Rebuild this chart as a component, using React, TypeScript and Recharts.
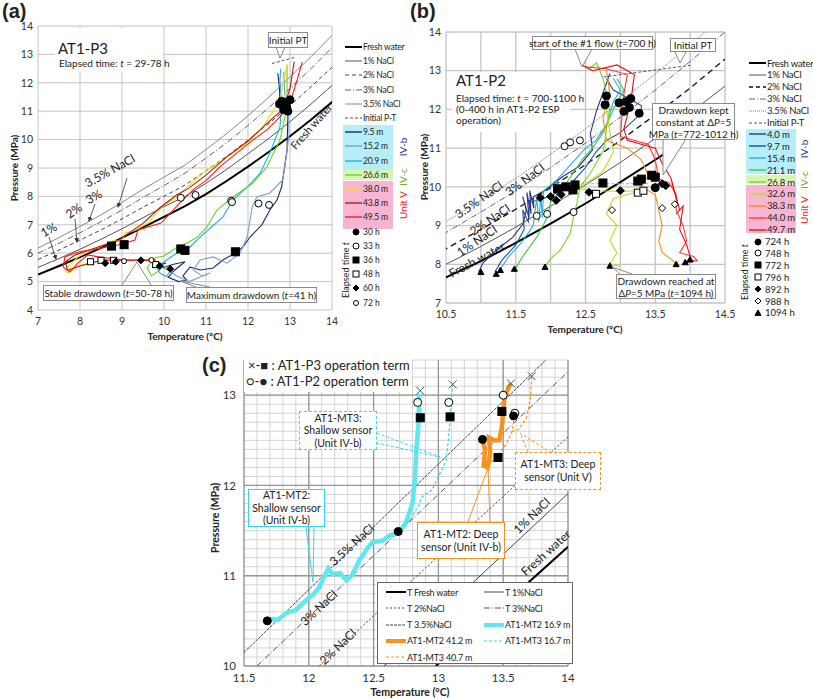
import React from "react";
import { ComposedChart, Line, Scatter, XAxis, YAxis, CartesianGrid, ReferenceLine } from "recharts";

type Pt = [number, number];
const pts = (a: Pt[]) => a.map(([t, p]) => ({ t, p }));

const FONT = "Lato, 'Open Sans', sans-serif";

// hydrate equilibrium curves (a)/(b)
const EQ_T = [7, 7.5, 8, 8.5, 9, 9.5, 10, 10.5, 11, 11.5, 12, 12.5, 13, 13.5, 14, 14.5];
const EQ_FRESH = [5.25, 5.55, 5.86, 6.19, 6.54, 6.91, 7.28, 7.66, 8.08, 8.55, 9.05, 9.57, 10.12, 10.7, 11.32, 11.96];
const EQ_1 = [5.5, 5.81, 6.14, 6.49, 6.86, 7.25, 7.64, 8.0, 8.46, 8.96, 9.5, 10.05, 10.63, 11.25, 11.91, 12.6];
const EQ_2 = [5.78, 6.11, 6.46, 6.82, 7.21, 7.62, 8.0, 8.4, 8.9, 9.42, 9.98, 10.57, 11.2, 11.86, 12.55, 13.3];
const EQ_3 = [6.0, 6.35, 6.72, 7.11, 7.52, 7.96, 8.38, 8.82, 9.35, 9.9, 10.5, 11.13, 11.8, 12.5, 13.24, 14.0];
const EQ_35 = [6.18, 6.55, 6.94, 7.35, 7.79, 8.25, 8.68, 9.1, 9.65, 10.22, 10.84, 11.5, 12.2, 12.92, 13.67, 14.45];
const eq = (v: number[]) => EQ_T.map((t, i) => ({ t, p: v[i] }));

// ---------- panel (a) AT1-P3 ----------
const A_XTICKS = [7, 8, 9, 10, 11, 12, 13, 14];
const A_YTICKS = [4, 5, 6, 7, 8, 9, 10, 11, 12, 13, 14];
const A_INIT: Pt[] = [[12.57, 12.68], [13.1, 12.89]];
const A_95: Pt[] = [[12.71, 12.34], [12.75, 11.8], [12.76, 11.29], [12.95, 10.94], [12.93, 9.63], [12.8, 8.33], [12.69, 7.87], [12.52, 7.52], [12.33, 7.0], [12.05, 6.57], [11.88, 6.22], [11.69, 6.0], [11.4, 5.76], [11.17, 5.48], [10.86, 5.41], [10.62, 5.51], [10.45, 5.2], [10.55, 5.05], [10.35, 5.0], [10.1, 5.15], [10.25, 5.4], [10.5, 5.7], [10.2, 5.6], [10.0, 5.5], [9.9, 5.6], [10.05, 5.65]];
const A_152: Pt[] = [[12.85, 12.4], [12.88, 11.5], [12.95, 11.0], [12.98, 10.2], [12.92, 9.5], [12.83, 8.58], [12.52, 8.12], [12.21, 7.98], [12.1, 7.63], [12.05, 7.17], [11.98, 6.57], [11.81, 6.0], [11.5, 5.65], [11.17, 5.87], [10.86, 5.76], [10.7, 5.41], [10.9, 5.2], [11.1, 5.3], [10.6, 5.0], [10.3, 5.2], [10.1, 5.4], [9.95, 5.5]];
const A_209: Pt[] = [[12.78, 12.5], [12.76, 12.1], [12.8, 11.15], [12.76, 10.44], [12.52, 9.53], [12.29, 8.82], [11.98, 8.33], [11.64, 7.87], [11.4, 7.27], [10.86, 6.57], [10.62, 6.22], [10.45, 6.11], [10.2, 5.9], [10.0, 5.7], [9.85, 5.5], [9.75, 5.7], [9.9, 5.3], [10.06, 5.17], [10.2, 5.5]];
const A_266: Pt[] = [[12.93, 12.64], [12.93, 11.8], [12.93, 11.15], [12.76, 9.99], [12.45, 9.04], [12.12, 8.47], [11.64, 7.98], [11.26, 7.52], [11.02, 6.92], [10.79, 6.57], [10.55, 6.36], [10.3, 6.2], [10.0, 5.9], [9.8, 5.85], [9.6, 5.5], [9.7, 5.2], [9.9, 5.4], [9.75, 5.7], [9.5, 5.75]];
const A_380: Pt[] = [[12.93, 12.63], [12.76, 11.4], [12.36, 10.44], [11.98, 9.88], [11.4, 9.28], [10.93, 8.82], [10.55, 8.33], [10.33, 7.98], [10.0, 7.7], [9.62, 7.06], [9.3, 6.8], [9.07, 6.71], [9.0, 6.4], [8.83, 6.46], [8.4, 6.2], [7.95, 5.87], [7.64, 5.41], [7.71, 5.3], [8.02, 5.58], [8.6, 5.76], [9.38, 5.76], [9.8, 5.8]];
const A_438: Pt[] = [[13.1, 12.75], [13.0, 11.8], [12.85, 11.1], [12.4, 10.5], [12.0, 9.95], [11.5, 9.4], [11.0, 8.75], [10.6, 8.3], [10.3, 8.05], [9.9, 7.6], [9.5, 7.05], [9.2, 6.75], [8.9, 6.45], [8.4, 6.2], [7.9, 5.95], [7.65, 5.7], [7.7, 5.4], [8.0, 5.55], [8.5, 5.75], [9.3, 5.75], [9.8, 5.75]];
const A_495: Pt[] = [[13.29, 12.73], [13.17, 12.1], [13.0, 11.29], [12.76, 10.8], [12.45, 10.34], [12.12, 9.99], [11.74, 9.53], [11.33, 9.04], [11.02, 8.58], [10.69, 8.23], [10.38, 7.77], [9.93, 7.06], [9.38, 6.82], [9.31, 6.46], [8.9, 6.29], [8.5, 6.18], [7.95, 6.04], [7.64, 5.87], [7.6, 5.51], [7.76, 5.34], [7.95, 5.65], [8.19, 5.94], [8.43, 5.87], [9.07, 5.76], [9.79, 5.76]];
const A_M30: Pt[] = [[12.75, 11.25], [12.85, 11.05], [12.9, 11.3], [12.95, 11.0], [13.0, 11.4], [12.92, 11.15], [12.8, 11.35]];
const A_M33: Pt[] = [[10.4, 7.95], [10.75, 8.05], [11.6, 7.85], [11.62, 7.8], [12.25, 7.75], [12.5, 7.7]];
const A_M36: Pt[] = [[8.75, 6.25], [9.05, 6.3], [10.4, 6.15], [10.5, 6.1], [11.7, 6.05]];
const A_M48: Pt[] = [[8.25, 5.7], [8.5, 5.75], [8.8, 5.75], [9.8, 5.6]];
const A_M60: Pt[] = [[8.6, 5.65], [8.85, 5.7], [9.45, 5.75], [9.9, 5.55], [10.15, 5.45]];
const A_M72: Pt[] = [[9.05, 5.72], [9.7, 5.76]];

// ---------- panel (b) AT1-P2 ----------
const B_XGRID = [10.5, 11, 11.5, 12, 12.5, 13, 13.5, 14, 14.5];
const B_XTICKS = [10.5, 11.5, 12.5, 13.5, 14.5];
const B_YTICKS = [7, 8, 9, 10, 11, 12, 13, 14];
const B_FRESH_END: Pt = [13.62, 10.84];
const B_INIT: Pt[] = [[12.76, 12.84], [14.0, 13.14]];
const B_HOLD: Pt[] = [[12.08, 10.08], [13.4, 10.08]];
const B_40: Pt[] = [[10.97, 7.8], [11.03, 8.03], [11.22, 8.37], [11.46, 8.7], [11.61, 9.06], [11.65, 9.4], [11.6, 9.75], [11.69, 9.2], [11.66, 9.85], [11.72, 9.3], [11.7, 9.9], [11.76, 9.45], [11.75, 9.74], [11.93, 9.92], [12.17, 10.26], [12.4, 10.52], [12.6, 10.95], [12.57, 11.38], [12.66, 11.98], [12.8, 12.67], [12.85, 12.93]];
const B_97: Pt[] = [[11.2, 7.8], [11.3, 8.1], [11.5, 8.5], [11.62, 8.9], [11.6, 9.4], [11.68, 9.1], [11.7, 9.6], [11.9, 9.7], [12.1, 9.85], [12.3, 10.1], [12.5, 10.5], [12.65, 10.9], [12.8, 11.2], [13.0, 11.4], [13.3, 11.9], [13.3, 12.1], [13.1, 12.3], [12.9, 12.5], [12.8, 12.8]];
const B_154: Pt[] = [[11.25, 7.8], [11.4, 8.2], [11.6, 8.6], [11.75, 9.0], [11.8, 9.7], [11.83, 9.1], [11.86, 9.8], [11.88, 9.2], [11.9, 9.9], [12.1, 10.2], [12.3, 10.6], [12.5, 11.0], [12.65, 11.2], [12.8, 11.6], [12.9, 12.2], [13.0, 12.5], [12.9, 12.8]];
const B_211: Pt[] = [[11.5, 7.9], [11.6, 8.2], [11.8, 8.7], [11.95, 9.2], [12.0, 9.6], [12.15, 9.9], [12.3, 10.3], [12.45, 10.7], [12.6, 11.0], [12.75, 11.4], [12.9, 12.0], [13.05, 12.5], [12.95, 12.8]];
const B_268: Pt[] = [[12.55, 13.05], [12.66, 13.2], [12.75, 12.8], [12.85, 12.07], [12.8, 11.5], [12.76, 10.95], [12.57, 10.35], [12.42, 10.0], [12.38, 9.6], [12.33, 9.23], [12.28, 8.8], [12.14, 8.37], [11.99, 8.12], [11.92, 7.94]];
const B_326: Pt[] = [[12.85, 12.6], [12.8, 12.0], [12.85, 11.4], [12.9, 10.9], [12.75, 10.4], [12.4, 9.95], [12.7, 9.9], [13.0, 9.88], [13.3, 9.9], [12.9, 9.7], [12.8, 9.3], [12.95, 9.0], [12.85, 8.6], [12.95, 8.3], [12.85, 8.0], [13.0, 7.95]];
const B_383: Pt[] = [[12.8, 13.05], [12.85, 12.4], [12.75, 11.8], [12.8, 11.2], [13.1, 11.0], [13.3, 10.7], [13.4, 10.3], [13.3, 10.0], [13.5, 9.8], [13.55, 9.4], [13.6, 9.0], [13.55, 8.6], [13.6, 8.3], [13.75, 8.1], [13.8, 8.0]];
const B_440: Pt[] = [[12.5, 13.1], [12.8, 13.05], [13.1, 12.9], [13.05, 12.4], [13.0, 11.3], [13.4, 11.1], [13.5, 10.7], [13.55, 10.2], [13.7, 10.1], [13.8, 9.8], [13.8, 9.4], [13.9, 9.0], [13.95, 8.6], [13.85, 8.3], [14.05, 8.2], [14.1, 8.1], [13.95, 8.05]];
const B_497: Pt[] = [[12.45, 13.15], [12.6, 13.0], [12.95, 13.15], [13.2, 12.9], [13.15, 12.2], [13.05, 11.5], [13.1, 11.2], [13.5, 11.0], [13.6, 10.6], [13.7, 10.3], [13.72, 10.25], [13.8, 9.7], [13.73, 10.2], [13.82, 9.6], [13.74, 10.1], [13.83, 9.5], [13.76, 10.0], [13.85, 9.4], [13.8, 9.3], [13.9, 9.5], [13.85, 8.9], [13.95, 8.5], [14.0, 8.2], [13.95, 8.05]];
const B_M724: Pt[] = [[12.8, 12.35], [12.78, 12.12], [12.98, 12.17], [13.05, 11.95], [13.08, 12.2], [13.13, 12.05], [13.15, 12.28], [13.27, 11.9], [13.5, 9.98]];
const B_M748: Pt[] = [[12.2, 11.05], [12.28, 11.15], [12.42, 11.2], [11.8, 9.25], [11.95, 9.3], [12.33, 9.35]];
const B_M772: Pt[] = [[12.1, 9.95], [12.22, 10.0], [12.35, 10.05], [12.32, 9.92], [12.75, 10.1], [13.25, 10.15], [13.3, 10.2], [13.45, 10.3], [13.5, 10.25]];
const B_M796: Pt[] = [[12.65, 9.82], [13.25, 9.85], [13.33, 9.9]];
const B_M892: Pt[] = [[11.85, 9.72], [12.0, 9.75], [12.08, 9.65], [12.15, 9.8], [12.55, 9.86], [13.0, 9.9], [13.6, 10.08], [13.65, 10.03]];
const B_M988: Pt[] = [[12.88, 9.4], [13.6, 9.45], [13.78, 9.55]];
const B_M1094: Pt[] = [[11.0, 7.8], [11.22, 7.75], [11.28, 7.85], [11.48, 7.88], [11.92, 7.93], [12.85, 7.96], [13.8, 8.0], [13.93, 8.05], [14.0, 8.12]];

// ---------- panel (c) ----------
const C_XTICKS = [11.5, 12, 12.5, 13, 13.5, 14];
const C_YTICKS = [10, 11, 12, 13];
const C_XMINOR = [11.5, 11.6, 11.7, 11.8, 11.9, 12, 12.1, 12.2, 12.3, 12.4, 12.5, 12.6, 12.7, 12.8, 12.9, 13, 13.1, 13.2, 13.3, 13.4, 13.5, 13.6, 13.7, 13.8, 13.9, 14];
const C_YMINOR = [10, 10.1, 10.2, 10.3, 10.4, 10.5, 10.6, 10.7, 10.8, 10.9, 11, 11.1, 11.2, 11.3, 11.4, 11.5, 11.6, 11.7, 11.8, 11.9, 12, 12.1, 12.2, 12.3, 12.4, 12.5, 12.6, 12.7, 12.8, 12.9, 13, 13.1, 13.2, 13.3];
const C_FRESH: Pt[] = [[12.98, 10.0], [14.0, 11.32]];
const C_1: Pt[] = [[12.58, 10.0], [14.0, 11.91]];
const C_2: Pt[] = [[12.08, 10.0], [14.0, 12.54]];
const C_3: Pt[] = [[11.6, 10.0], [14.0, 13.26]];
const C_35: Pt[] = [[11.5, 10.15], [13.85, 13.42]];
const C_MT2_169: Pt[] = [[11.68, 10.5], [11.72, 10.52], [11.76, 10.51], [11.83, 10.59], [11.9, 10.62], [11.98, 10.73], [12.04, 10.8], [12.08, 10.87], [12.15, 11.08], [12.18, 11.02], [12.24, 11.03], [12.29, 10.95], [12.33, 11.0], [12.39, 11.17], [12.45, 11.3], [12.49, 11.37], [12.57, 11.39], [12.63, 11.45], [12.68, 11.47], [12.74, 11.56], [12.8, 11.8], [12.82, 12.09], [12.83, 12.4], [12.85, 12.75], [12.85, 13.02]];
const C_MT3_167: Pt[] = [[12.69, 11.52], [12.78, 11.62], [12.85, 11.78], [12.87, 11.87], [12.95, 11.95], [13.0, 12.1], [13.06, 12.28], [13.08, 12.55], [13.09, 12.72], [13.1, 12.95], [13.11, 13.12]];
const C_MT2_412: Pt[] = [[13.34, 12.51], [13.36, 12.4], [13.35, 12.22], [13.38, 12.2], [13.4, 12.36], [13.39, 12.53], [13.43, 12.5], [13.47, 12.5], [13.49, 12.65], [13.5, 12.82], [13.51, 12.98], [13.54, 13.08], [13.56, 13.13]];
const C_MT3_407: Pt[] = [[13.38, 12.22], [13.45, 12.32], [13.52, 12.45], [13.57, 12.6], [13.59, 12.78], [13.57, 12.6], [13.62, 12.62], [13.68, 12.75], [13.71, 12.95], [13.72, 13.21]];
const C_X: Pt[] = [[12.86, 13.05], [13.11, 13.12], [13.56, 13.13], [13.72, 13.21]];
const C_SQ: Pt[] = [[12.86, 12.75], [13.09, 12.76], [13.49, 12.82], [13.46, 12.31]];
const C_OC: Pt[] = [[12.84, 12.92], [13.08, 12.92], [13.5, 13.0], [13.59, 12.8]];
const C_FC: Pt[] = [[11.68, 10.5], [12.69, 11.49], [13.34, 12.51], [13.58, 12.77]];

// ---------- styles ----------
const EQ_STYLES = {
  fresh: { stroke: "#000", width: 2, dash: undefined as string | undefined },
  s1: { stroke: "#555", width: 1, dash: undefined as string | undefined },
  s2: { stroke: "#444", width: 1, dash: "4 3" },
  s3: { stroke: "#666", width: 1, dash: "6 2 1 2" },
  s35: { stroke: "#888", width: 1, dash: undefined as string | undefined },
  init: { stroke: "#555", width: 1, dash: "3 2" },
};

const A_SERIES = [
  { label: "9.5 m", data: A_95, stroke: "#1b2a6b" },
  { label: "15.2 m", data: A_152, stroke: "#7f9fc4" },
  { label: "20.9 m", data: A_209, stroke: "#1fb0f0" },
  { label: "26.6 m", data: A_266, stroke: "#6ad61e" },
  { label: "38.0 m", data: A_380, stroke: "#efe000" },
  { label: "43.8 m", data: A_438, stroke: "#b3191f" },
  { label: "49.5 m", data: A_495, stroke: "#ff1a1a" },
];
const B_SERIES = [
  { label: "4.0 m", data: B_40, stroke: "#2b3585" },
  { label: "9.7 m", data: B_97, stroke: "#1f4aa0" },
  { label: "15.4 m", data: B_154, stroke: "#22b0e8" },
  { label: "21.1 m", data: B_211, stroke: "#39c94a" },
  { label: "26.8 m", data: B_268, stroke: "#77d81c" },
  { label: "32.6 m", data: B_326, stroke: "#b8e01a" },
  { label: "38.3 m", data: B_383, stroke: "#ff8a1c" },
  { label: "44.0 m", data: B_440, stroke: "#ff3b30" },
  { label: "49.7 m", data: B_497, stroke: "#e3101a" },
];

type Kind = "circle" | "square" | "diamond" | "triangle" | "x";
function Mark({ cx, cy, kind, filled, size }: { cx: number; cy: number; kind: Kind; filled: boolean; size: number }) {
  const h = size / 2;
  const fill = filled ? "#000" : "#fff";
  const st = { fill, stroke: "#000", strokeWidth: 1 };
  if (kind === "circle") return <circle cx={cx} cy={cy} r={h} {...st} />;
  if (kind === "square") return <rect x={cx - h} y={cy - h} width={size} height={size} {...st} />;
  if (kind === "diamond") return <polygon points={`${cx},${cy - h} ${cx + h},${cy} ${cx},${cy + h} ${cx - h},${cy}`} {...st} />;
  if (kind === "triangle") return <polygon points={`${cx},${cy - h} ${cx + h},${cy + h * 0.8} ${cx - h},${cy + h * 0.8}`} {...st} />;
  return (
    <g stroke="#555" strokeWidth={1}>
      <line x1={cx - h} y1={cy - h} x2={cx + h} y2={cy + h} />
      <line x1={cx - h} y1={cy + h} x2={cx + h} y2={cy - h} />
    </g>
  );
}

const A_MARKS = [
  { label: "30 h", data: A_M30, kind: "circle" as Kind, filled: true, size: 8 },
  { label: "33 h", data: A_M33, kind: "circle" as Kind, filled: false, size: 7 },
  { label: "36 h", data: A_M36, kind: "square" as Kind, filled: true, size: 8 },
  { label: "48 h", data: A_M48, kind: "square" as Kind, filled: false, size: 6 },
  { label: "60 h", data: A_M60, kind: "diamond" as Kind, filled: true, size: 7 },
  { label: "72 h", data: A_M72, kind: "circle" as Kind, filled: false, size: 5 },
];
const B_MARKS = [
  { label: "724 h", data: B_M724, kind: "circle" as Kind, filled: true, size: 8 },
  { label: "748 h", data: B_M748, kind: "circle" as Kind, filled: false, size: 7 },
  { label: "772 h", data: B_M772, kind: "square" as Kind, filled: true, size: 8 },
  { label: "796 h", data: B_M796, kind: "square" as Kind, filled: false, size: 7 },
  { label: "892 h", data: B_M892, kind: "diamond" as Kind, filled: true, size: 8 },
  { label: "988 h", data: B_M988, kind: "diamond" as Kind, filled: false, size: 7 },
  { label: "1094 h", data: B_M1094, kind: "triangle" as Kind, filled: true, size: 6 },
];

const tickStyle = { fontSize: 10.5, fill: "#333" };

function eqRowsFor(set: "a" | "b") {
  const fresh = set === "a" ? eq(EQ_FRESH) : [...eq(EQ_FRESH).filter((d) => d.t <= 13.5), { t: B_FRESH_END[0], p: B_FRESH_END[1] }];
  return [
    { d: fresh, s: EQ_STYLES.fresh },
    { d: eq(EQ_1), s: EQ_STYLES.s1 },
    { d: eq(EQ_2), s: set === "b" ? { stroke: "#111", width: 1.3, dash: "6 4" } : EQ_STYLES.s2 },
    { d: eq(EQ_3), s: EQ_STYLES.s3 },
    { d: eq(EQ_35), s: set === "b" ? { stroke: "#777", width: 1, dash: "1 1" } : EQ_STYLES.s35 },
  ];
}

function renderLine(key: string, data: { t: number; p: number }[], stroke: string, width: number, dash?: string) {
  return (
    <Line
      key={key}
      data={data}
      dataKey="p"
      type="linear"
      stroke={stroke}
      strokeWidth={width}
      strokeDasharray={dash}
      dot={false}
      activeDot={false}
      isAnimationActive={false}
      legendType="none"
    />
  );
}

function renderMarks(key: string, data: Pt[], kind: Kind, filled: boolean, size: number) {
  return (
    <Scatter
      key={key}
      data={pts(data)}
      isAnimationActive={false}
      shape={(p: any) => <Mark cx={p.cx} cy={p.cy} kind={kind} filled={filled} size={size} />}
    />
  );
}

function ChartA() {
  return (
    <ComposedChart width={340} height={340} margin={{ top: 26, right: 8, left: 10, bottom: 0 }}>
      <CartesianGrid stroke="#c4c4c4" />
      <XAxis type="number" dataKey="t" domain={[7, 14]} ticks={A_XTICKS} allowDataOverflow tickLine={false} axisLine={false} height={30} tick={tickStyle} />
      <YAxis type="number" dataKey="p" domain={[4, 14]} ticks={A_YTICKS} allowDataOverflow tickLine={false} axisLine={false} width={28} tickSize={4} tickMargin={1} tick={tickStyle} />
      {eqRowsFor("a").map((r, i) => renderLine("eq" + i, r.d, r.s.stroke, r.s.width, r.s.dash))}
      {renderLine("init", pts(A_INIT), EQ_STYLES.init.stroke, 1, EQ_STYLES.init.dash)}
      {A_SERIES.map((s) => renderLine(s.label, pts(s.data), s.stroke, 1.1))}
      {A_MARKS.map((m) => renderMarks(m.label, m.data, m.kind, m.filled, m.size))}
    </ComposedChart>
  );
}

function ChartB() {
  return (
    <ComposedChart width={335} height={340} margin={{ top: 32, right: 20, left: 8, bottom: 7 }}>
      <CartesianGrid stroke="#c4c4c4" strokeWidth={1.3} />
      <XAxis type="number" dataKey="t" domain={[10.5, 14.5]} ticks={B_XGRID} interval={0} tickFormatter={(v: number) => (B_XTICKS.includes(v) ? String(v) : "")} allowDataOverflow tickLine={false} axisLine={false} height={30} tick={tickStyle} />
      <YAxis type="number" dataKey="p" domain={[7, 14]} ticks={B_YTICKS} allowDataOverflow tickLine={false} axisLine={false} width={28} tickSize={4} tickMargin={1} tick={tickStyle} />
      {eqRowsFor("b").map((r, i) => renderLine("eq" + i, r.d, r.s.stroke, r.s.width, r.s.dash))}
      {renderLine("init", pts(B_INIT), EQ_STYLES.init.stroke, 1, EQ_STYLES.init.dash)}
      {renderLine("hold", pts(B_HOLD), "#aaa", 1, "3 2")}
      {B_SERIES.map((s) => renderLine(s.label, pts(s.data), s.stroke, 1.1))}
      {B_MARKS.map((m) => renderMarks(m.label, m.data, m.kind, m.filled, m.size))}
    </ComposedChart>
  );
}

const C_LINES = [
  { label: "T Fresh water", data: C_FRESH, stroke: "#000", width: 2, dash: undefined as string | undefined },
  { label: "T 1%NaCl", data: C_1, stroke: "#333", width: 0.9, dash: undefined as string | undefined },
  { label: "T 2%NaCl", data: C_2, stroke: "#444", width: 1, dash: "2 2" },
  { label: "T 3%NaCl", data: C_3, stroke: "#444", width: 0.9, dash: "6 2 1 2" },
  { label: "T 3.5%NaCl", data: C_35, stroke: "#333", width: 0.9, dash: "3 1" },
  { label: "AT1-MT2 16.9 m", data: C_MT2_169, stroke: "#5fe8f2", width: 4.5, dash: undefined as string | undefined },
  { label: "AT1-MT2 41.2 m", data: C_MT2_412, stroke: "#f7921e", width: 4.5, dash: undefined as string | undefined },
  { label: "AT1-MT3 16.7 m", data: C_MT3_167, stroke: "#35d6f0", width: 1.2, dash: "3 2" },
  { label: "AT1-MT3 40.7 m", data: C_MT3_407, stroke: "#f7921e", width: 1.2, dash: "3 2" },
];

function ChartC() {
  const cTick = { fontSize: 11.5, fill: "#333" };
  return (
    <ComposedChart width={400} height={359} margin={{ top: 20, right: 12, left: 34, bottom: 0 }}>
      <CartesianGrid stroke="#d4d4d4" />
      <XAxis type="number" dataKey="t" domain={[11.5, 14]} ticks={C_XMINOR} interval={0} tickFormatter={(v: number) => (C_XTICKS.includes(v) ? String(v) : "")} allowDataOverflow tickLine={false} axisLine={false} height={33} tick={cTick} />
      <YAxis type="number" dataKey="p" domain={[10, 13.39]} ticks={C_YMINOR} interval={0} tickFormatter={(v: number) => (C_YTICKS.includes(v) ? String(v) : "")} allowDataOverflow tickLine={false} axisLine={false} width={30} tick={cTick} />
      {C_XTICKS.map((v) => (
        <ReferenceLine key={"vx" + v} x={v} stroke="#969696" strokeWidth={1.3} />
      ))}
      {C_YTICKS.map((v) => (
        <ReferenceLine key={"hy" + v} y={v} stroke="#969696" strokeWidth={1.3} />
      ))}
      {C_LINES.map((s) => renderLine(s.label, pts(s.data), s.stroke, s.width, s.dash))}
      {renderMarks("x", C_X, "x", false, 8)}
      {renderMarks("sq", C_SQ, "square", true, 8)}
      {renderMarks("oc", C_OC, "circle", false, 8)}
      {renderMarks("fc", C_FC, "circle", true, 8)}
    </ComposedChart>
  );
}

// ---------- overlay helpers ----------
function T({ cx, cy, size = 11, rot = 0, color = "#222", bold = false, children }: any) {
  return (
    <div style={{ position: "absolute", left: cx, top: cy, transform: `translate(-50%,-50%) rotate(${rot}deg)`, fontSize: size, color, fontWeight: bold ? 700 : 400, whiteSpace: "nowrap", lineHeight: 1 }}>
      {children}
    </div>
  );
}
function TL({ x, y, size = 11, color = "#222", bold = false, children, family, lh = 1.15 }: any) {
  return (
    <div style={{ position: "absolute", left: x, top: y, fontSize: size, color, fontWeight: bold ? 700 : 400, whiteSpace: "nowrap", lineHeight: lh, fontFamily: family }}>
      {children}
    </div>
  );
}
function Box({ x, y, w, h, border = "#8a8a8a", dashed = false, size = 10.5, children, bw = 1 }: any) {
  return (
    <div style={{ position: "absolute", left: x, top: y, width: w, height: h, boxSizing: "border-box", border: `${bw}px ${dashed ? "dashed" : "solid"} ${border}`, background: "#fff", display: "flex", flexDirection: "column", alignItems: "center", justifyContent: "center", fontSize: size, lineHeight: 1.2, color: "#222", textAlign: "center", whiteSpace: "nowrap" }}>
      {children}
    </div>
  );
}
function Swatch({ stroke, width, dash, w = 17 }: any) {
  return (
    <svg width={w} height={6} style={{ display: "block" }}>
      <line x1={0} y1={3} x2={w} y2={3} stroke={stroke} strokeWidth={width} strokeDasharray={dash} />
    </svg>
  );
}
function LegLine({ x, y, label, size, ...rest }: any) {
  return (
    <div style={{ position: "absolute", left: x, top: y - 6, height: 12, display: "flex", alignItems: "center", fontSize: size, color: "#222", whiteSpace: "nowrap", letterSpacing: -0.2 }}>
      <Swatch {...rest} />
      <span style={{ marginLeft: 1 }}>{label}</span>
    </div>
  );
}
function LegMark({ x, y, label, size, kind, filled, msize, tx }: any) {
  return (
    <div style={{ position: "absolute", left: x, top: y - 6, height: 12, display: "flex", alignItems: "center", fontSize: size, color: "#222", whiteSpace: "nowrap" }}>
      <svg width={tx} height={12} style={{ display: "block" }}>
        <Mark cx={tx / 2} cy={6} kind={kind} filled={filled} size={msize} />
      </svg>
      <span style={{ marginLeft: 2 }}>{label}</span>
    </div>
  );
}

const A_EQ_LEG = [
  { label: "Fresh water", ...EQ_STYLES.fresh },
  { label: "1% NaCl", ...EQ_STYLES.s1 },
  { label: "2% NaCl", ...EQ_STYLES.s2 },
  { label: "3% NaCl", ...EQ_STYLES.s3 },
  { label: "3.5% NaCl", ...EQ_STYLES.s35 },
  { label: "Initial P-T", ...EQ_STYLES.init },
];

function LegendA() {
  const y0 = 47;
  const dy = 14.2;
  return (
    <>
      <div style={{ position: "absolute", left: 343, top: 125, width: 50, height: 45, background: "#b5eef9" }} />
      <div style={{ position: "absolute", left: 343, top: 170, width: 50, height: 10, background: "#d6f6b4" }} />
      <div style={{ position: "absolute", left: 343, top: 181, width: 50, height: 48, background: "#f8b5d2" }} />
      {A_EQ_LEG.map((r, i) => (
        <LegLine key={r.label} x={345} y={y0 + i * dy} label={r.label} size={8.5} stroke={r.stroke} width={r.width} dash={r.dash} />
      ))}
      {A_SERIES.map((s, i) => (
        <LegLine key={s.label} x={345} y={y0 + (i + 6) * dy} label={s.label} size={8.5} stroke={s.stroke} width={1.4} />
      ))}
      {A_MARKS.map((m, i) => (
        <LegMark key={m.label} x={351} y={y0 + (i + 13) * dy} label={m.label} size={8.5} kind={m.kind} filled={m.filled} msize={Math.min(m.size, 6)} tx={10} />
      ))}
      <T cx={403} cy={147} size={10} rot={-90} color="#2e3192">IV-b</T>
      <T cx={403} cy={177} size={10} rot={-90} color="#70a82a">IV-c</T>
      <T cx={403} cy={205} size={10} rot={-90} color="#ee1c24">Unit V</T>
      <T cx={345} cy={270} size={9} rot={-90}>Elapsed time <i>t</i></T>
    </>
  );
}

function LegendB() {
  const y0 = 63;
  const dy = 11.9;
  return (
    <>
      <div style={{ position: "absolute", left: 746, top: 129, width: 50, height: 45, background: "#b5eef9" }} />
      <div style={{ position: "absolute", left: 746, top: 175, width: 50, height: 9, background: "#d6f6b4" }} />
      <div style={{ position: "absolute", left: 746, top: 185, width: 50, height: 48, background: "#f8b5d2" }} />
      {[
        { label: "Fresh water", ...EQ_STYLES.fresh },
        { label: "1% NaCl", ...EQ_STYLES.s1 },
        { label: "2% NaCl", stroke: "#111", width: 1.3, dash: "4 3" },
        { label: "3% NaCl", ...EQ_STYLES.s3 },
        { label: "3.5% NaCl", stroke: "#777", width: 1, dash: "1 1" },
        { label: "Initial P-T", ...EQ_STYLES.init },
      ].map((r, i) => (
        <LegLine key={r.label} x={749} y={y0 + i * dy} label={r.label} size={9.5} stroke={r.stroke} width={r.width} dash={r.dash} />
      ))}
      {B_SERIES.map((s, i) => (
        <LegLine key={s.label} x={749} y={y0 + (i + 6) * dy} label={s.label} size={9.5} stroke={s.stroke} width={1.4} />
      ))}
      {B_MARKS.map((m, i) => (
        <LegMark key={m.label} x={753} y={y0 + (i + 15) * dy} label={m.label} size={9.5} kind={m.kind} filled={m.filled} msize={Math.min(m.size, 6)} tx={10} />
      ))}
      <T cx={804} cy={149} size={10} rot={-90} color="#2e3192">IV-b</T>
      <T cx={804} cy={180} size={10} rot={-90} color="#70a82a">IV-c</T>
      <T cx={804} cy={210} size={10} rot={-90} color="#ee1c24">Unit V</T>
      <T cx={744} cy={272} size={9} rot={-90}>Elapsed time <i>t</i></T>
    </>
  );
}

function LegendC() {
  const rows = [
    [C_LINES[0], C_LINES[1]],
    [C_LINES[2], C_LINES[3]],
    [C_LINES[4], C_LINES[5]],
    [C_LINES[6], C_LINES[7]],
    [C_LINES[8]],
  ];
  return (
    <div style={{ position: "absolute", left: 377, top: 582, width: 196, height: 82, boxSizing: "border-box", border: "1px solid #666", background: "#fff" }}>
      {rows.map((r, i) =>
        r.map((s, j) => (
          <LegLine key={s.label} x={j === 0 ? 8 : 106} y={9 + i * 16.3} label={s.label} size={9} stroke={s.stroke} width={Math.min(s.width, 4)} dash={s.dash} w={20} />
        ))
      )}
    </div>
  );
}

function Pointers() {
  const g = "#8a8a8a";
  return (
    <svg width={813} height={699} style={{ position: "absolute", left: 0, top: 0, pointerEvents: "none" }}>
      <defs>
        <marker id="ah" markerWidth="6" markerHeight="6" refX="5" refY="3" orient="auto">
          <path d="M0,0 L6,3 L0,6 z" fill="#333" />
        </marker>
      </defs>
      {/* (a) */}
      <polyline points="276,47 280,58 285,47" fill="#fff" stroke={g} />
      <polyline points="122,285 137,262 151,285" fill="none" stroke={g} />
      <polyline points="196,287 180,281 210,287" fill="none" stroke={g} />
      <g stroke="#333" strokeWidth={0.8} markerEnd="url(#ah)">
        <line x1={127} y1={178} x2={118} y2={207} />
        <line x1={95} y1={204} x2={89} y2={221} />
        <line x1={75} y1={219} x2={77} y2={242} />
        <line x1={49} y1={237} x2={56} y2={259} />
      </g>
      {/* (b) */}
      <polyline points="575,49 582,67 592,49" fill="#fff" stroke={g} />
      <polyline points="675,52 680,63 686,52" fill="#fff" stroke={g} />
      <polyline points="663,139 663,175 686,139" fill="#fff" stroke={g} />
      <polyline points="620,274 612,267 632,274" fill="#fff" stroke={g} />
      {/* (c) */}
      <polyline points="377,433 440,457 377,443" fill="none" stroke="#35d6f0" strokeDasharray="3 2" />
      <polyline points="306,527 313,582 314,527" fill="none" stroke="#35d6f0" />
      <polyline points="528,452 520,433 550,452" fill="none" stroke="#f7921e" strokeDasharray="3 2" />
      <polyline points="468,522 488,468 490,522" fill="none" stroke="#f7921e" />
    </svg>
  );
}

export default function App() {
  return (
    <div style={{ position: "absolute", left: 0, top: 0, width: 813, height: 699, background: "#fff", fontFamily: FONT, overflow: "hidden" }}>
      <div style={{ position: "absolute", left: 0, top: 0 }}>
        <ChartA />
      </div>
      <div style={{ position: "absolute", left: 410, top: 0 }}>
        <ChartB />
      </div>
      <div style={{ position: "absolute", left: 180, top: 340 }}>
        <ChartC />
      </div>

      {/* panel (a) texts */}
      <TL x={2} y={0} size={20} bold family="'Liberation Sans', Arial, sans-serif">(a)</TL>
      <div style={{ position: "absolute", left: 55, top: 28, width: 108, height: 44, background: "#fff" }} />
      <TL x={58} y={40} size={15}>AT1-P3</TL>
      <TL x={59} y={58} size={10}>Elapsed time: <i>t</i> = 29-78 h</TL>
      <T cx={110} cy={171} size={12} rot={-29}>3.5% NaCl</T>
      <T cx={94} cy={197} size={12} rot={-30}>3%</T>
      <T cx={74} cy={211} size={12} rot={-35}>2%</T>
      <T cx={49} cy={230} size={12} rot={-30}>1%</T>
      <T cx={311} cy={126} size={11} rot={-49}>Fresh water</T>
      <T cx={14} cy={168} size={10} rot={-90} bold>Pressure (MPa)</T>
      <T cx={185} cy={336} size={10} bold>Temperature (°C)</T>

      {/* panel (b) texts */}
      <TL x={410} y={0} size={20} bold family="'Liberation Sans', Arial, sans-serif">(b)</TL>
      <div style={{ position: "absolute", left: 452, top: 72, width: 118, height: 60, background: "#fff" }} />
      <TL x={456} y={73} size={15} lh={1}>AT1-P2</TL>
      <TL x={456} y={93} size={10} lh={1.12}>
        Elapsed time: <i>t</i> = 700-1100 h
        <br />
        (0-400 h in AT1-P2 ESP
        <br />
        operation)
      </TL>
      <T cx={479} cy={200} size={12} rot={-35}>3.5% NaCl</T>
      <T cx={525} cy={180} size={12} rot={-37}>3% NaCl</T>
      <T cx={490} cy={220} size={12} rot={-34}>2% NaCl</T>
      <T cx={477} cy={241} size={12} rot={-34}>1% NaCl</T>
      <T cx={477} cy={260} size={12} rot={-28}>Fresh water</T>
      <T cx={424} cy={167} size={10} rot={-90} bold>Pressure (MPa)</T>
      <T cx={585} cy={329} size={10} bold>Temperature (°C)</T>

      {/* panel (c) texts */}
      <TL x={202} y={354} size={20} bold family="'Liberation Sans', Arial, sans-serif">(c)</TL>
      <div style={{ position: "absolute", left: 244, top: 356, width: 168, height: 36, background: "#fff" }} />
      <TL x={248} y={358} size={13}>×-■ : AT1-P3 operation term</TL>
      <TL x={246} y={374} size={13}>○-● : AT1-P2 operation term</TL>
      <T cx={215} cy={518} size={10.5} rot={-90} bold>Pressure (MPa)</T>
      <T cx={410} cy={692} size={10.5} bold>Temperature (°C)</T>
      <T cx={352} cy={545} size={12} rot={-42}>3.5% NaCl</T>
      <T cx={319} cy={608} size={12} rot={-43}>3% NaCl</T>
      <T cx={338} cy={647} size={12} rot={-44}>2% NaCl</T>
      <T cx={532} cy={516} size={12} rot={-44}>1% NaCl</T>
      <T cx={546} cy={553} size={12} rot={-42}>Fresh water</T>

      <LegendA />
      <LegendB />
      <LegendC />
      <Pointers />

      {/* callout boxes */}
      <Box x={268} y={32} w={40} h={16} size={10}>Initial PT</Box>
      <Box x={43} y={285} w={131} h={16} size={10}>
        <span>Stable drawdown (<i>t</i>=50-78 h)</span>
      </Box>
      <Box x={186} y={287} w={131} h={16} size={10}>
        <span>Maximum drawdown (<i>t</i>=41 h)</span>
      </Box>
      <Box x={532} y={36} w={121} h={14} size={10}>
        <span>start of the #1 flow (<i>t</i>=700 h)</span>
      </Box>
      <Box x={670} y={38} w={46} h={14} size={10}>Initial PT</Box>
      <Box x={652} y={103} w={83} h={37} size={10}>
        <span>Drawdown kept</span>
        <span>constant at Δ<i>P</i>=5</span>
        <span>MPa (<i>t</i>=772-1012 h)</span>
      </Box>
      <Box x={616} y={274} w={100} h={25} size={10}>
        <span>Drawdown reached at</span>
        <span>Δ<i>P</i>=5 MPa (<i>t</i>=1094 h)</span>
      </Box>
      <Box x={299} y={411} w={78} h={39} border="#35d6f0" dashed size={10.5}>
        <span>AT1-MT3:</span>
        <span>Shallow sensor</span>
        <span>(Unit IV-b)</span>
      </Box>
      <Box x={248} y={489} w={77} h={38} border="#35d6f0" size={10.5}>
        <span>AT1-MT2:</span>
        <span>Shallow sensor</span>
        <span>(Unit IV-b)</span>
      </Box>
      <Box x={515} y={452} w={86} h={38} border="#f7921e" dashed bw={1.5} size={10.5}>
        <span>AT1-MT3: Deep</span>
        <span>sensor (Unit V)</span>
      </Box>
      <Box x={417} y={522} w={88} h={37} border="#f7921e" bw={1.5} size={10.5}>
        <span>AT1-MT2: Deep</span>
        <span>sensor (Unit IV-b)</span>
      </Box>
    </div>
  );
}
